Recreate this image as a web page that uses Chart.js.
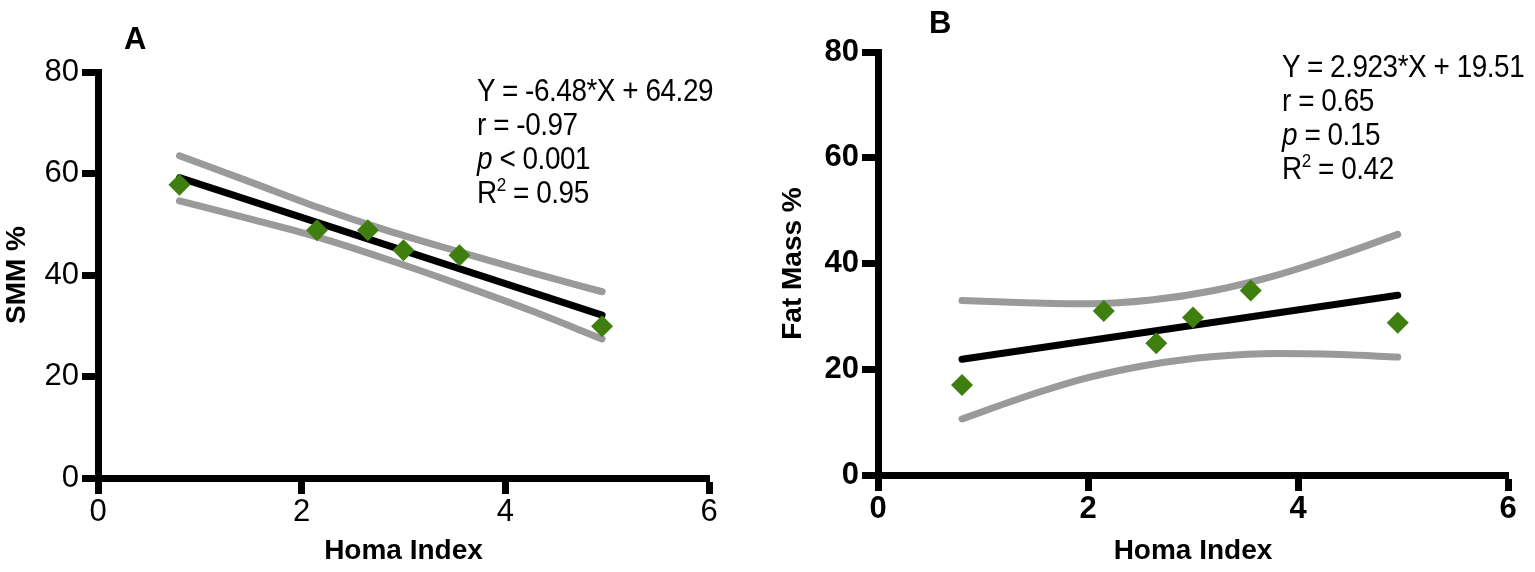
<!DOCTYPE html>
<html>
<head>
<meta charset="utf-8">
<script src="https://cdn.jsdelivr.net/npm/chart.js@4.4.1/dist/chart.umd.min.js"></script>
<style>
  html, body { margin: 0; padding: 0; background: #fff; }
  body { width: 1535px; height: 572px; position: relative; overflow: hidden; }
  .panel { position: absolute; top: 0; height: 572px; }
  .note { position: absolute; font-family: 'Liberation Sans', Arial, sans-serif; font-size: 31px;
          letter-spacing: -0.5px; line-height: 34px; color: #000; white-space: nowrap;
          transform: scaleX(0.9); transform-origin: 0 0; }
  .note sup { font-size: 19px; line-height: 0; vertical-align: 12px; }
  .tag { position: absolute; font-family: 'Liberation Sans', Arial, sans-serif; font-weight: bold;
         font-size: 31px; line-height: 34px; color: #000; }
</style>
</head>
<body>
<div class="panel" style="left:0;width:767px"><canvas id="chartA"></canvas></div>
<div class="panel" style="left:767px;width:768px"><canvas id="chartB"></canvas></div>

<div class="tag" style="left:124px;top:22px">A</div>
<div class="tag" style="left:929px;top:6px">B</div>

<div class="note" style="left:477px;top:74px">
  Y = -6.48*X + 64.29<br>r = -0.97<br><i>p</i> &lt; 0.001<br>R<sup>2</sup> = 0.95
</div>
<div class="note" style="left:1282px;top:50px">
  Y = 2.923*X + 19.51<br>r = 0.65<br><i>p</i> = 0.15<br>R<sup>2</sup> = 0.42
</div>

<script>
// values
const homaIndex = [0.8, 2.15, 2.65, 3.0, 3.55, 4.95];
const smmPct = [57.8, 48.8, 48.8, 44.9, 43.9, 29.9];
const fatMassPct = [17.0, 31.0, 24.9, 29.8, 34.9, 28.8];

const fitX = [0.8, 4.95];
const smmFit = [59.2, 32.1];
const fatFit = [21.9, 34.0];

// 95% confidence band curves
const smmBandX = [0.8, 1.5, 2.15, 2.85, 3.54, 4.25, 4.95];
const smmUpper = [63.5, 58.3, 53.4, 48.7, 44.6, 40.5, 36.7];
const smmLower = [54.6, 51.0, 47.5, 43.0, 38.2, 33.0, 27.4];

const fatBandX = [0.8, 1.4, 2.0, 2.6, 3.2, 3.8, 4.4, 4.95];
const fatUpper = [33.0, 32.6, 32.4, 33.1, 34.9, 37.8, 41.6, 45.5];
const fatLower = [10.6, 14.8, 18.4, 20.9, 22.4, 23.0, 22.8, 22.3];

const xTicks = [0, 2, 4, 6];
const yTicks = [0, 20, 40, 60, 80];

const sans = "'Liberation Sans', Arial, sans-serif";
const green = '#3f7f10';
const grey = '#9a9a9a';

function pts(xs, ys) {
  return xs.map((x, i) => ({x: x, y: ys[i]}));
}

function makeChart(id, o) {
  const lineSet = (xs, ys, color) => ({
    data: pts(xs, ys), showLine: true, borderColor: color, borderWidth: 7,
    pointRadius: 0, cubicInterpolationMode: 'monotone', borderCapStyle: 'round', fill: false
  });
  const grid = {drawOnChartArea: false, drawTicks: true, tickLength: 16, tickWidth: 7, tickColor: '#000'};
  return new Chart(document.getElementById(id), {
    type: 'scatter',
    data: {
      datasets: [
        {data: pts(homaIndex, o.y), pointStyle: 'rectRot', pointRadius: 11,
         backgroundColor: green, borderColor: green, borderWidth: 0},
        lineSet(fitX, o.fit, '#000'),
        lineSet(o.bandX, o.upper, grey),
        lineSet(o.bandX, o.lower, grey)
      ]
    },
    options: {
      responsive: true,
      maintainAspectRatio: false,
      animation: false,
      layout: {padding: {top: o.top, right: o.right, bottom: 0, left: 0}},
      plugins: {legend: {display: false}, tooltip: {enabled: false}},
      scales: {
        x: {
          type: 'linear', min: 0, max: 6,
          afterBuildTicks: s => { s.ticks = xTicks.map(v => ({value: v})); },
          afterFit: s => { s.height = o.xh; },
          border: {display: true, color: '#000', width: 7},
          grid: grid,
          ticks: {color: '#000', padding: 0, font: {family: sans, size: 31, weight: o.tickWeight}},
          title: {display: true, text: 'Homa Index', color: '#000', padding: {top: 0, bottom: 4},
                  font: {family: sans, size: 28, weight: 'bold'}}
        },
        y: {
          type: 'linear', min: 0, max: 80,
          afterBuildTicks: s => { s.ticks = yTicks.map(v => ({value: v})); },
          afterFit: s => { s.width = o.yw; },
          border: {display: true, color: '#000', width: 7},
          grid: grid,
          ticks: {color: '#000', padding: 3, font: {family: sans, size: 31, weight: o.tickWeight}},
          title: {display: true, text: o.yTitle, color: '#000', padding: {top: o.titlePad, bottom: 0},
                  font: {family: sans, size: 28, weight: 'bold'}}
        }
      }
    }
  });
}

makeChart('chartA', {
  y: smmPct, fit: smmFit, bandX: smmBandX, upper: smmUpper, lower: smmLower,
  yTitle: 'SMM %', top: 72, right: 58, xh: 94, yw: 98, tickWeight: 'normal', titlePad: 0
});
makeChart('chartB', {
  y: fatMassPct, fit: fatFit, bandX: fatBandX, upper: fatUpper, lower: fatLower,
  yTitle: 'Fat Mass %', top: 52, right: 27, xh: 97, yw: 111, tickWeight: 'bold', titlePad: 9
});
</script>
</body>
</html>
